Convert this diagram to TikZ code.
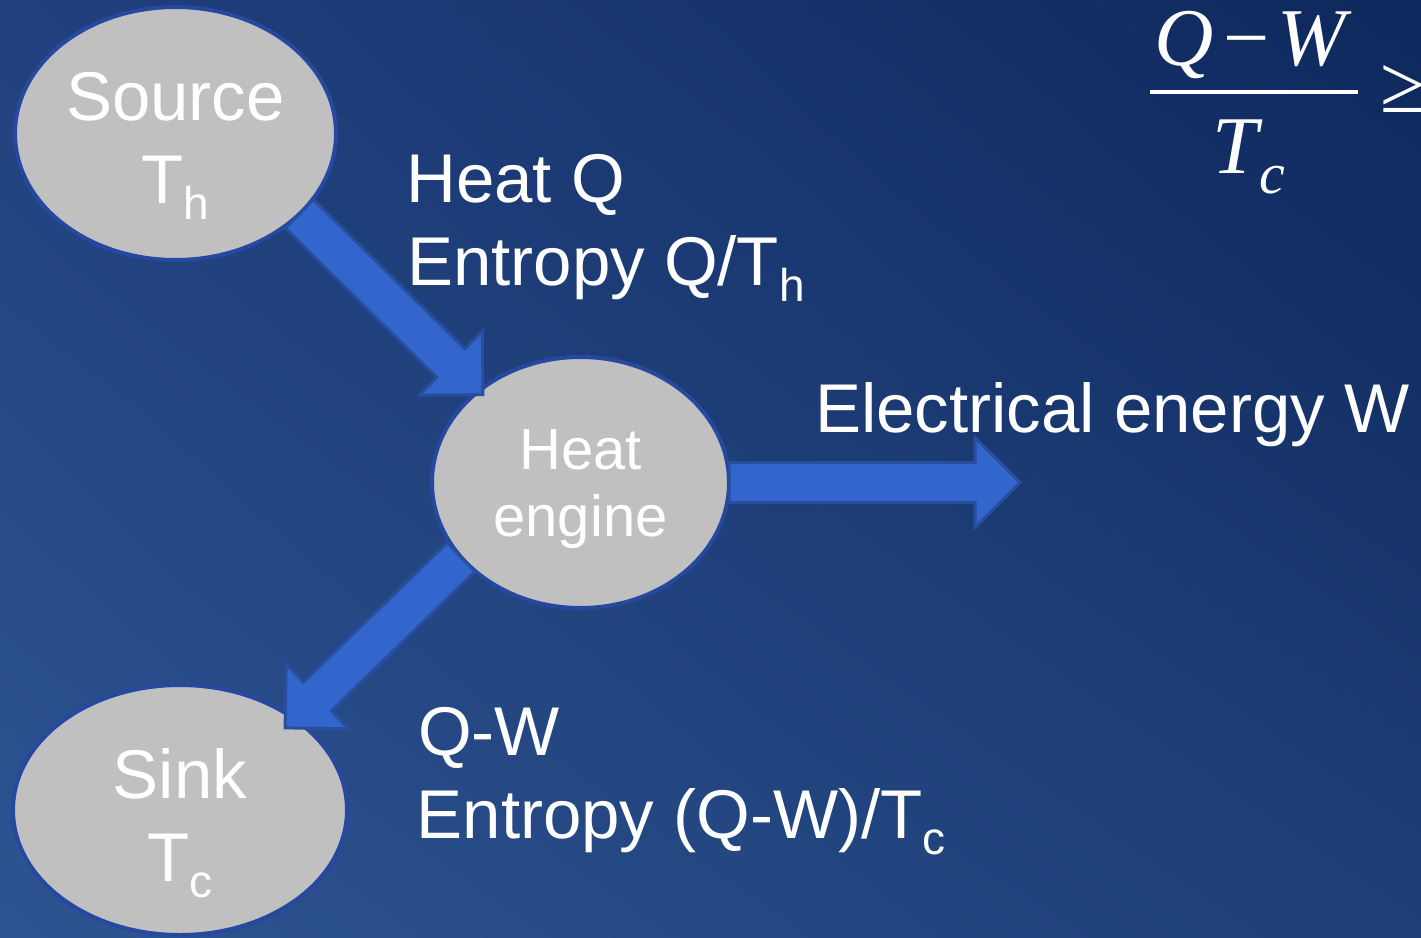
\documentclass[tikz,border=0pt]{standalone}
\usepackage{fontspec}
\setmainfont{Liberation Sans}
\newfontfamily\eqfont{Liberation Serif}
\usetikzlibrary{shapes.geometric,calc,shadings}

\definecolor{bgul}{RGB}{33,64,126}
\definecolor{bgur}{RGB}{13,40,92}
\definecolor{bgll}{RGB}{45,84,146}
\definecolor{bglr}{RGB}{30,62,118}
\definecolor{bodygray}{RGB}{192,192,192}
\definecolor{rimblue}{RGB}{38,72,160}
\definecolor{flowblue}{RGB}{51,102,204}
\definecolor{flowrim}{RGB}{40,78,160}

% lowered index, as in T_h
\newcommand{\lowidx}[2][46]{\raisebox{-16pt}[0pt][0pt]{\fontsize{#1}{#1}\selectfont #2}}
% block arrow from #1 (tail) to #2 (tip)
\newcommand{\flowarrow}[2]{%
  \draw[flow] let \p1=(#1), \p2=(#2),
    \n1={atan2(\y2-\y1,\x2-\x1)}, \n2={veclen(\x2-\x1,\y2-\y1)-45pt}
    in (\p1) ++(\n1+90:20pt) -- ++(\n1:\n2) -- ++(\n1+90:25pt)
    -- ++(\n1-45:63.64pt) -- ++(\n1-135:63.64pt) -- ++(\n1+90:25pt)
    -- ++(\n1+180:\n2) -- cycle;}

\begin{document}
\begin{tikzpicture}[x=1pt,y=-1pt,
  body/.style={ellipse,draw=rimblue,line width=4pt,fill=bodygray,inner sep=0pt,outer sep=0pt,text=white,align=center},
  flow/.style={draw=flowrim,line width=3pt,fill=flowblue,line join=miter},
  lbl/.style={text=white,inner sep=0pt,anchor=base west,font=\fontsize{69}{83}\selectfont},
  eq/.style={text=white,inner sep=0pt,anchor=base,font=\eqfont\fontsize{82}{82}\selectfont}]
\useasboundingbox (0,0) rectangle (1421,937);
\shade[upper left=bgul,upper right=bgur,lower left=bgll,lower right=bglr] (0,0) rectangle (1421,937);

% reservoirs and engine
\node[body,minimum width=321pt,minimum height=253pt,font=\fontsize{69}{83}\selectfont] (src) at (175.5,133.5) {\rule{0pt}{57pt}Source\\T\lowidx{h}};
\node[body,minimum width=297pt,minimum height=251pt,font=\fontsize{58}{67}\selectfont] (eng) at (580.5,482.5) {\rule{0pt}{54pt}Heat\\engine};
\node[body,minimum width=334pt,minimum height=250pt,font=\fontsize{69}{83}\selectfont] (snk) at (180,810) {\rule{0pt}{59pt}Sink\\T\lowidx{c}};
\coordinate (out) at (1020,482.5);

% energy flows
\flowarrow{src.-33}{$(eng.center)!0.96!(eng.138)$}
\flowarrow{eng.0}{out}
\flowarrow{eng.212}{$(snk.center)!0.91!(snk.38)$}

% labels
\node[lbl] (heatq) at (406,202) {Heat Q};
\node[lbl] (entq) at (407,285) {Entropy Q/T\lowidx{h}};
\node[lbl] (elec) at (815,432) {Electrical energy W};
\node[lbl] (qw) at (418,755) {Q-W};
\node[lbl] (entqw) at (416.5,838) {Entropy (Q-W)/T\lowidx{c}};

% second law
\node[eq] (num) at (1253,65) {\textit{Q}\hspace{10pt}−\hspace{8pt}\textit{W}};
\node[eq] (den) at (1249,173) {\textit{T}\hspace{-3pt}\raisebox{-20pt}{\fontsize{58}{58}\selectfont\textit{c}}};
\draw[white,line width=4pt] (1150,92) -- (1358,92);
\node[eq,anchor=base west] (geq) at (1380,112) {≥};
\end{tikzpicture}
\end{document}
